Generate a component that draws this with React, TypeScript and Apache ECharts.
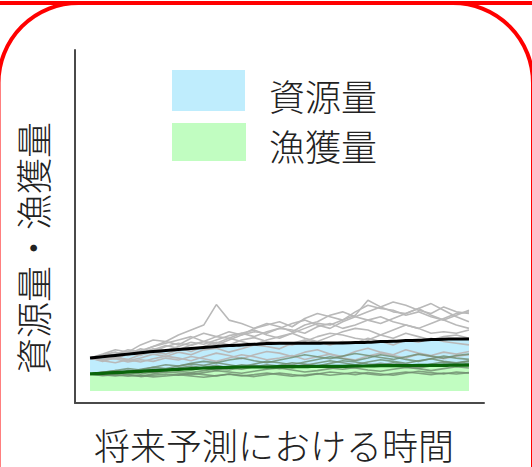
import React, { useEffect, useRef } from "react";
import * as echarts from "echarts";

const timeSteps = Array.from({ length: 31 }, (_, i) => i);

const resourceMedian = [100, 104, 108, 112, 116, 120, 123, 126, 129, 132, 135, 138, 140, 142, 144, 145, 145, 145, 145, 146, 146, 147, 148, 150, 151, 153, 154, 156, 157, 158, 158];
const catchMedian = [52, 54, 56, 58, 60, 62, 64, 66, 68, 70, 71, 72, 73, 73, 73, 74, 74, 74, 75, 75, 75, 76, 76, 77, 77, 77, 78, 78, 78, 79, 79];

const resourceRuns = [
  [100, 112, 125, 118, 140, 155, 150, 170, 185, 200, 262, 215, 205, 190, 200, 210, 195, 220, 235, 225, 215, 240, 260, 250, 245, 230, 240, 225, 215, 230, 245],
  [100, 95, 110, 125, 120, 135, 150, 140, 160, 175, 165, 180, 170, 190, 205, 195, 180, 200, 210, 230, 240, 225, 215, 205, 220, 235, 250, 265, 245, 225, 210],
  [100, 105, 98, 112, 128, 120, 135, 145, 138, 150, 165, 160, 175, 185, 170, 160, 175, 190, 205, 200, 215, 230, 275, 255, 240, 235, 250, 230, 215, 200, 190],
  [100, 90, 102, 96, 110, 118, 112, 125, 140, 150, 145, 160, 150, 140, 155, 165, 175, 160, 150, 165, 180, 190, 185, 170, 160, 175, 165, 155, 165, 170, 160],
  [100, 108, 100, 115, 108, 125, 138, 130, 120, 135, 148, 140, 155, 162, 150, 145, 140, 150, 165, 175, 170, 160, 155, 170, 185, 200, 190, 175, 180, 175, 185],
  [100, 96, 104, 92, 100, 112, 105, 118, 110, 125, 130, 118, 128, 140, 135, 128, 145, 155, 148, 140, 150, 145, 160, 150, 140, 155, 148, 160, 150, 145, 140],
  [100, 92, 86, 95, 88, 98, 106, 100, 92, 104, 115, 108, 98, 110, 120, 115, 105, 118, 125, 112, 105, 120, 130, 118, 110, 125, 115, 108, 118, 112, 120],
  [100, 110, 118, 108, 122, 135, 145, 155, 165, 150, 140, 155, 170, 180, 175, 190, 205, 215, 200, 190, 210, 225, 240, 255, 270, 260, 245, 235, 255, 240, 235],
  [100, 94, 98, 88, 95, 90, 100, 94, 105, 98, 90, 100, 110, 104, 95, 100, 108, 96, 104, 112, 100, 94, 106, 115, 108, 100, 112, 105, 98, 106, 110],
  [100, 104, 112, 120, 115, 128, 122, 135, 148, 142, 155, 168, 175, 165, 180, 190, 185, 175, 195, 205, 190, 200, 215, 225, 210, 200, 190, 205, 220, 235, 240],
];

const catchRuns = [
  [52, 55, 50, 58, 62, 56, 60, 68, 64, 72, 78, 70, 66, 74, 80, 76, 70, 78, 85, 92, 86, 80, 88, 95, 90, 84, 92, 98, 90, 86, 92],
  [52, 48, 54, 50, 46, 52, 58, 55, 50, 56, 62, 58, 54, 60, 66, 70, 64, 58, 62, 68, 74, 70, 64, 60, 66, 72, 68, 62, 68, 74, 70],
  [52, 56, 62, 58, 66, 72, 68, 76, 82, 78, 86, 80, 74, 82, 90, 86, 80, 88, 96, 104, 98, 92, 100, 110, 104, 96, 90, 98, 106, 100, 96],
  [52, 50, 46, 50, 44, 48, 52, 48, 54, 50, 46, 52, 48, 44, 50, 55, 50, 46, 52, 58, 54, 50, 56, 52, 48, 54, 60, 56, 52, 58, 55],
  [52, 58, 54, 62, 58, 66, 62, 70, 76, 70, 64, 72, 80, 76, 70, 78, 86, 82, 76, 84, 92, 88, 82, 78, 86, 80, 74, 82, 88, 84, 90],
  [52, 54, 60, 56, 52, 58, 64, 60, 56, 62, 68, 64, 72, 78, 74, 68, 74, 80, 76, 70, 66, 72, 78, 84, 80, 74, 70, 76, 82, 78, 84],
  [52, 47, 50, 45, 48, 43, 46, 50, 46, 42, 47, 51, 46, 50, 55, 50, 45, 49, 53, 48, 52, 57, 52, 48, 53, 58, 54, 50, 55, 52, 56],
  [52, 57, 62, 68, 64, 72, 80, 76, 84, 90, 86, 94, 100, 92, 86, 94, 102, 110, 104, 98, 106, 114, 108, 102, 96, 104, 112, 106, 100, 108, 112],
];

const legendLabels = ["資源量", "漁獲量"];
const xAxisTitle = "将来予測における時間";
const yAxisTitle = "資源量・漁獲量";

const FONT = '"Noto Sans CJK JP", "Noto Sans", sans-serif';
const BLUE = "#bfedfd";
const GREEN = "#c1fdc1";
const TEXT_FONT = `300 36px ${FONT}`;

export default function App() {
  const ref = useRef<HTMLDivElement>(null);

  useEffect(() => {
    if (!ref.current) return;
    const chart = echarts.init(ref.current, null, { renderer: "svg" });
    const pair = (arr: number[]) => arr.map((v, i) => [timeSteps[i], v]);

    const series: any[] = [];
    series.push({
      type: "line",
      data: pair(resourceMedian),
      symbol: "none",
      lineStyle: { width: 0 },
      areaStyle: { color: BLUE, opacity: 1 },
      silent: true,
    });
    series.push({
      type: "line",
      data: pair(catchMedian),
      symbol: "none",
      lineStyle: { width: 0 },
      areaStyle: { color: GREEN, opacity: 1 },
      silent: true,
    });
    resourceRuns.forEach((r) =>
      series.push({
        type: "line",
        data: pair(r),
        symbol: "none",
        lineStyle: { color: "#b9b9b9", width: 1.6 },
        silent: true,
      })
    );
    catchRuns.forEach((r) =>
      series.push({
        type: "line",
        data: pair(r),
        symbol: "none",
        lineStyle: { color: "#6f8c6f", width: 1.6, opacity: 0.8 },
        silent: true,
      })
    );
    series.push({
      type: "line",
      data: pair(resourceMedian),
      symbol: "none",
      smooth: true,
      lineStyle: { color: "#000", width: 3 },
      silent: true,
    });
    series.push({
      type: "line",
      data: pair(catchMedian),
      symbol: "none",
      smooth: true,
      lineStyle: { color: "#0a640a", width: 3.2 },
      silent: true,
    });

    const txt = (text: string, align: string) => ({
      text,
      fill: "#222",
      font: TEXT_FONT,
      lineHeight: 36,
      align,
      verticalAlign: "middle",
    });

    chart.setOption({
      animation: false,
      grid: { left: 75, right: 48, top: 50, bottom: 64 },
      xAxis: {
        type: "value",
        min: -1.19,
        max: 31.19,
        axisLine: { show: true, onZero: false, lineStyle: { color: "#4a4a4a", width: 2 } },
        axisTick: { show: false },
        axisLabel: { show: false },
        splitLine: { show: false },
      },
      yAxis: {
        type: "value",
        min: -36,
        max: 1033,
        axisLine: { show: true, onZero: false, lineStyle: { color: "#4a4a4a", width: 2 } },
        axisTick: { show: false },
        axisLabel: { show: false },
        splitLine: { show: false },
      },
      series,
      graphic: [
        {
          type: "line",
          shape: { x1: 0, y1: 3, x2: 532, y2: 3 },
          style: { stroke: "#ff0000", lineWidth: 4 },
        },
        {
          type: "rect",
          shape: { x: -1.5, y: 3, width: 534.5, height: 700, r: 80 },
          style: { fill: "none", stroke: "#ff0000", lineWidth: 4 },
        },
        {
          type: "rect",
          shape: { x: 172, y: 70, width: 73, height: 41 },
          style: { fill: BLUE },
        },
        {
          type: "rect",
          shape: { x: 172, y: 123, width: 74, height: 38 },
          style: { fill: GREEN },
        },
        { type: "text", x: 269, y: 95, style: txt(legendLabels[0], "left") },
        { type: "text", x: 269, y: 145, style: txt(legendLabels[1], "left") },
        { type: "text", x: 274, y: 444, style: txt(xAxisTitle, "center") },
        { type: "text", x: 32, y: 248, rotation: Math.PI / 2, style: txt(yAxisTitle, "center") },
      ],
    });
    return () => chart.dispose();
  }, []);

  return (
    <div
      ref={ref}
      style={{ position: "fixed", left: 0, top: 0, width: 532, height: 467, background: "#fff" }}
    />
  );
}
